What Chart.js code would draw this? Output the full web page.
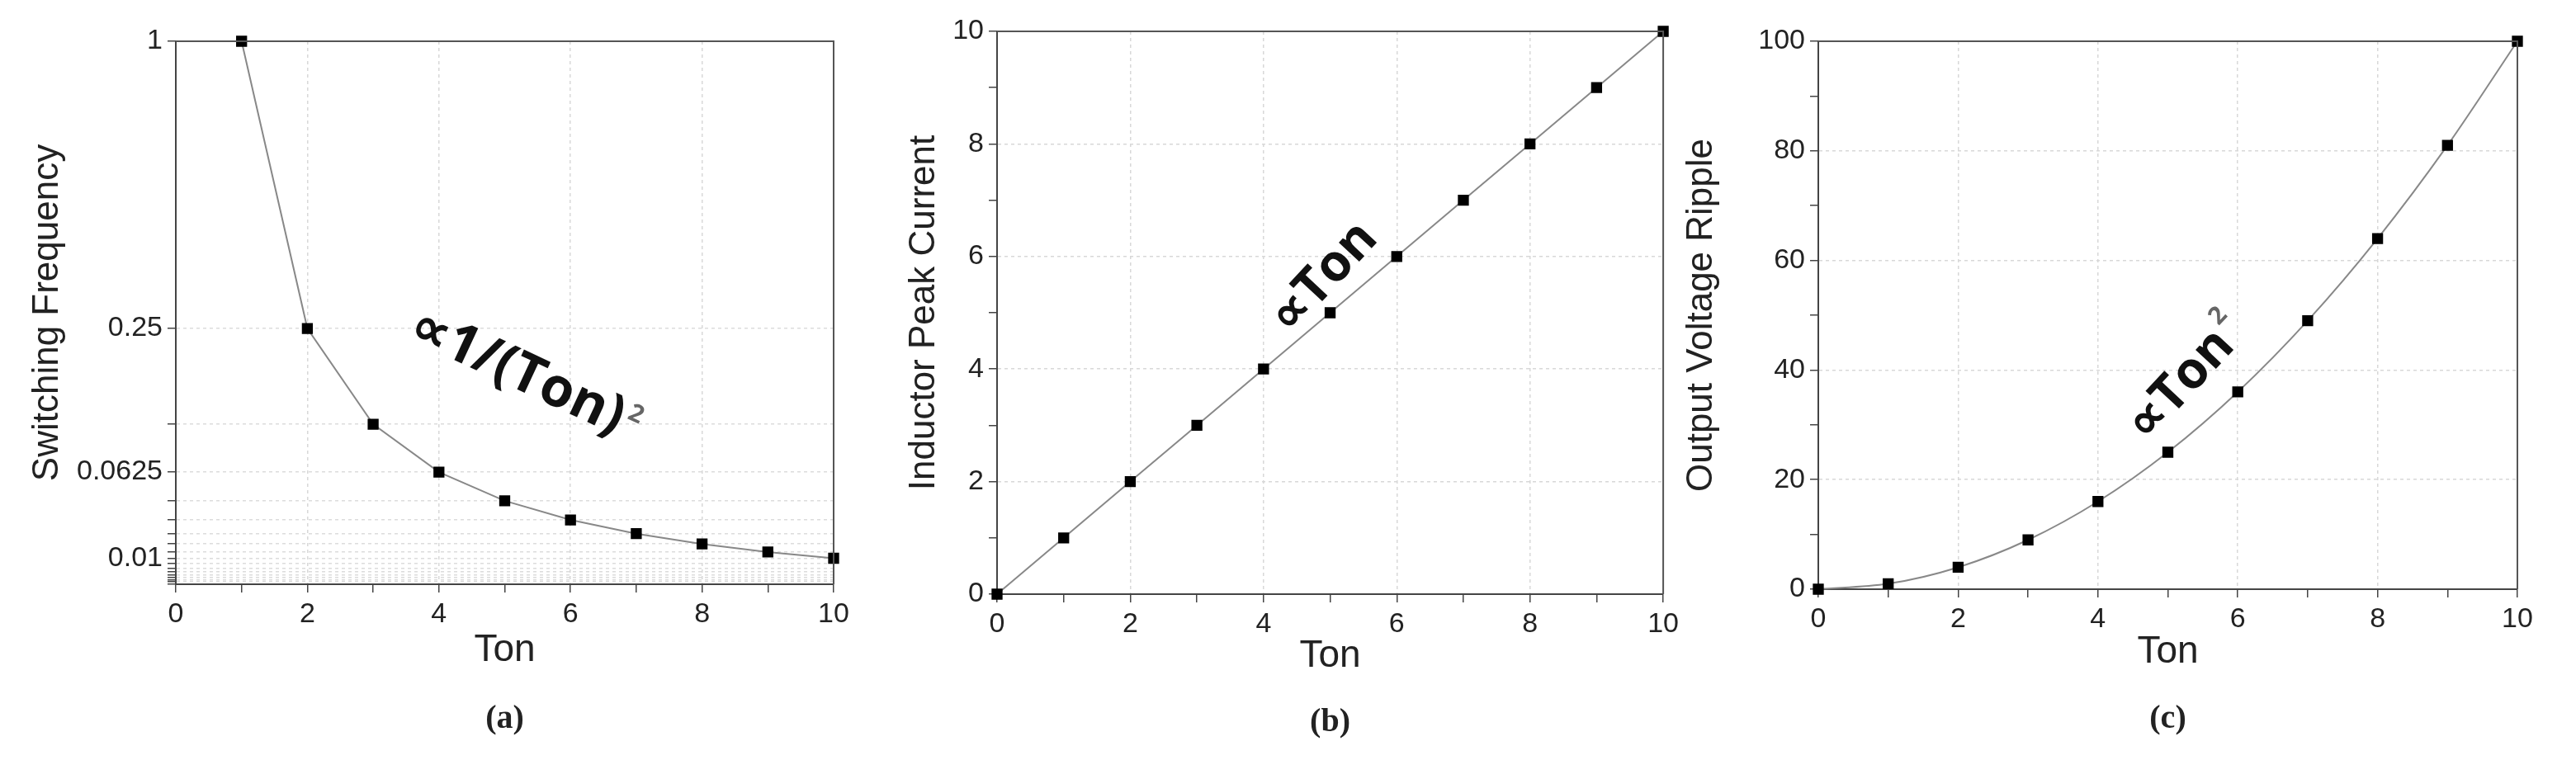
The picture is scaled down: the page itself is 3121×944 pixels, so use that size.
<!DOCTYPE html>
<html><head><meta charset="utf-8">
<script src="https://cdn.jsdelivr.net/npm/chart.js@4"></script>
<style>
html,body{margin:0;padding:0;background:#fff;width:3121px;height:944px;overflow:hidden}
canvas{position:absolute;top:0}
</style></head><body>
<canvas id="ca" style="left:0px" width="1040" height="944"></canvas>
<canvas id="cb" style="left:1040px" width="1000" height="944"></canvas>
<canvas id="cc" style="left:2040px" width="1081" height="944"></canvas>
<script>
// ---- data ----
const tonA = [1,2,3,4,5,6,7,8,9,10];
const freqA = [1,0.25,0.1111,0.0625,0.04,0.0278,0.0204,0.0156,0.0123,0.01];
const tonB = [0,1,2,3,4,5,6,7,8,9,10];
const currentB = [0,1,2,3,4,5,6,7,8,9,10];
const tonC = [0,1,2,3,4,5,6,7,8,9,10];
const rippleC = [0,1,4,9,16,25,36,49,64,81,100];
const yTicksA = [1,0.25,0.0625,0.01];
const yGridA = [1,0.25,0.1111,0.0625,0.04,0.0278,0.0204,0.0156,0.0123,0.01,0.0083,0.0069,0.0059,0.0051,0.0044,0.0039,0.0035,0.0031];

class SqrtScale extends Chart.LinearScale {
  getPixelForValue(v){const a=Math.sqrt(this.min),b=Math.sqrt(this.max);return this.getPixelForDecimal((Math.sqrt(Math.max(v,0))-a)/(b-a));}
  getValueForPixel(p){const a=Math.sqrt(this.min),b=Math.sqrt(this.max);const s=a+this.getDecimalForPixel(p)*(b-a);return s*s;}
}
SqrtScale.id='sqrt'; SqrtScale.defaults=Chart.LinearScale.defaults;
Chart.register(SqrtScale);

const FONT='Arial, "Liberation Sans", sans-serif';
const TF={size:34,family:FONT};
function panel(id, cfg){
  const deco={id:'deco',afterDraw(ch){
    const c=ch.ctx,a=ch.chartArea;c.save();
    c.strokeStyle='#555';c.lineWidth=2;
    c.beginPath();c.moveTo(a.left,a.top);c.lineTo(a.right,a.top);c.lineTo(a.right,a.bottom);c.stroke();
    c.fillStyle='#222';c.textAlign='center';c.textBaseline='middle';
    c.font='46px '+FONT;c.fillText('Ton',(a.left+a.right)/2,cfg.tonY);
    c.font='bold 40px "Liberation Serif", serif';c.fillText(cfg.letter,(a.left+a.right)/2,cfg.letY);
    c.save();c.translate(cfg.ytX,(a.top+a.bottom)/2);c.rotate(-Math.PI/2);c.font='44px '+FONT;c.fillText(cfg.ytitle,0,0);c.restore();
    c.save();c.translate(cfg.ann[0],cfg.ann[1]);c.rotate(cfg.ann[2]*Math.PI/180);
    c.font='bold '+cfg.annSize+'px "Open Sans", '+FONT;c.textAlign='left';c.fillStyle='#111';
    c.fillText(cfg.annText,0,0);
    if(cfg.sup){const w=c.measureText(cfg.annText).width;c.font='bold 30px "Open Sans", '+FONT;c.fillStyle='#666';c.fillText('2',w+4,-24+(cfg.supDy||0));}
    c.restore();c.restore();}};
  new Chart(document.getElementById(id),{
    type:'line',
    data:{datasets:[{data:cfg.x.map((v,i)=>({x:v,y:cfg.y[i]})),borderColor:'#888',borderWidth:2,
      pointStyle:'rect',pointRadius:8,pointBackgroundColor:'#000',pointBorderColor:'#000',
      tension:cfg.smooth?0.4:0,cubicInterpolationMode:cfg.smooth?'monotone':'default',clip:false}]},
    options:{responsive:false,animation:false,devicePixelRatio:1,
      layout:{padding:{top:cfg.top,right:cfg.right,left:0,bottom:0}},
      plugins:{legend:{display:false},tooltip:{enabled:false}},
      scales:{
        x:{type:'linear',min:0,max:10,
          afterFit:s=>{s.height=944-cfg.bottom;},
          ticks:{stepSize:1,autoSkip:false,maxRotation:0,color:'#222',font:TF,padding:6,
            callback:v=>v%2===0?String(v):''},
          grid:{color:c=>(c.tick&&c.tick.value%2===0&&c.tick.value>0&&c.tick.value<10)?'#d8d8d8':'rgba(0,0,0,0)',
            lineWidth:1.5,tickColor:'#444',tickLength:10,drawOnChartArea:true},
          border:{display:true,color:'#444',width:2,dash:[4,4]}},
        y:cfg.yscale
      }},
    plugins:[deco]
  });
}

const yB={type:'linear',min:0,max:10,afterFit:s=>{s.width=1208-1040;},
  ticks:{stepSize:1,autoSkip:false,color:'#222',font:TF,padding:6,callback:v=>v%2===0?String(v):''},
  grid:{color:c=>(c.tick&&c.tick.value%2===0&&c.tick.value>0&&c.tick.value<10)?'#d8d8d8':'rgba(0,0,0,0)',lineWidth:1.5,tickColor:'#444',tickLength:10},
  border:{color:'#444',width:2,dash:[4,4]}};
const yC={type:'linear',min:0,max:100,afterFit:s=>{s.width=2203-2040;},
  ticks:{stepSize:10,autoSkip:false,color:'#222',font:TF,padding:6,callback:v=>v%20===0?String(v):''},
  grid:{color:c=>(c.tick&&c.tick.value%20===0&&c.tick.value>0&&c.tick.value<100)?'#d8d8d8':'rgba(0,0,0,0)',lineWidth:1.5,tickColor:'#444',tickLength:10},
  border:{color:'#444',width:2,dash:[4,4]}};
const yA={type:'sqrt',min:0.003,max:1,afterFit:s=>{s.width=213;},
  afterBuildTicks:s=>{s.ticks=yGridA.map(v=>({value:v}));},
  ticks:{autoSkip:false,color:'#222',font:TF,padding:6,
    callback:v=>yTicksA.some(t=>Math.abs(t-v)<1e-6)?String(v):''},
  grid:{color:c=>(c.tick&&c.tick.value<0.99)?'#dcdcdc':'rgba(0,0,0,0)',lineWidth:1.5,tickColor:'#444',tickLength:10},
  border:{color:'#444',width:2,dash:[4,4]}};

panel('ca',{x:tonA,y:freqA,yscale:yA,smooth:false,top:50,bottom:708,right:1040-1010,tonY:788,letY:872,letter:'(a)',ytX:58,ytitle:'Switching Frequency',
  ann:[500,392,25],annSize:66,annText:'∝1/(Ton)',sup:true,supDy:10});
panel('cb',{x:tonB,y:currentB,yscale:yB,smooth:false,top:38,bottom:720,right:1000-(2047-1040),tonY:795,letY:876,letter:'(b)',ytX:80,ytitle:'Inductor Peak Current',
  ann:[510,395,-47],annSize:62,annText:'∝Ton',sup:false});
panel('cc',{x:tonC,y:rippleC,yscale:yC,smooth:true,top:50,bottom:714,right:1081-(3050-2040),tonY:790,letY:872,letter:'(c)',ytX:22,ytitle:'Output Voltage Ripple',
  ann:[548,525,-47],annSize:62,annText:'∝Ton',sup:true,supDy:0});
</script></body></html>
